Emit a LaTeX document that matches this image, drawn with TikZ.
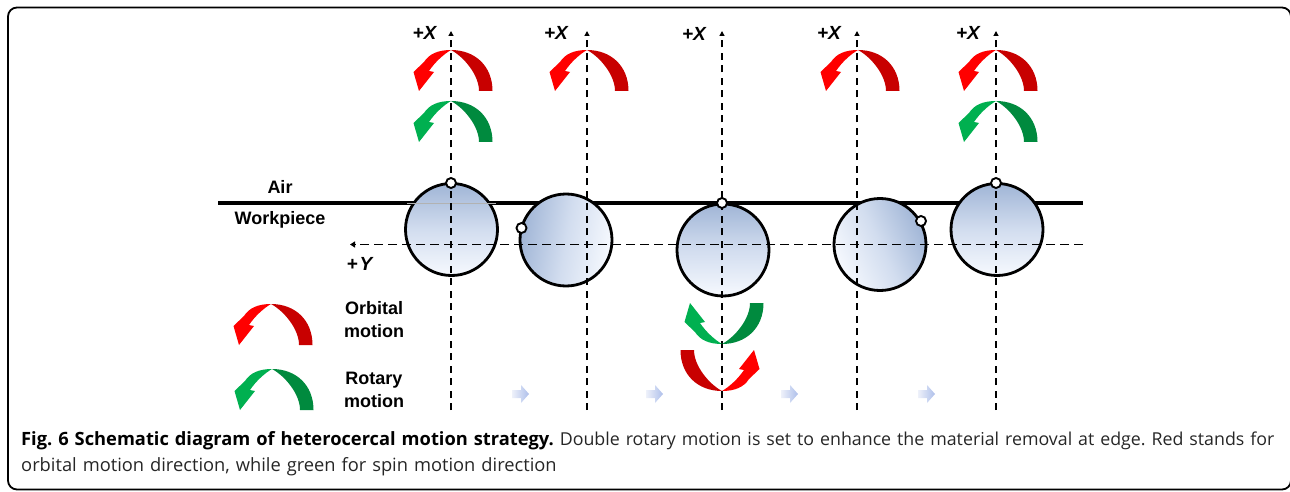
\documentclass[tikz,border=0pt]{standalone}
\usepackage{fontspec}
\setmainfont{Liberation Sans}
\newfontfamily\capfont{Open Sans}
\usetikzlibrary{arrows.meta}
\definecolor{redlt}{HTML}{FF0000}
\definecolor{reddk}{HTML}{C80000}
\definecolor{grnlt}{HTML}{00B050}
\definecolor{grndk}{HTML}{008A3E}
\definecolor{balltop}{HTML}{A0B5D6}
\definecolor{ballmid}{HTML}{D2DDEF}
\definecolor{ballbot}{HTML}{F6F9FE}
\definecolor{steplt}{HTML}{EEF1FA}
\definecolor{stepdk}{HTML}{AEBFEA}
\tikzset{
  curved/.pic={
    \fill[#1dk] (0,0) .. controls (24,0) and (41.5,16) .. (41.5,41) -- (28,41) .. controls (28,25) and (13,7) .. (0,0) -- cycle;
    \fill[#1lt] (0,0) .. controls (-13,0) and (-22,4) .. (-27,12) -- (-37.5,22) -- (-32,41) -- (-17,22) -- (-22,21) .. controls (-16,12) and (-7,4) .. (0,0) -- cycle;
  },
  axisline/.style={dashed,dash pattern=on 7pt off 5.5pt,line width=1.7pt,-{Triangle[length=5pt,width=5pt]}},
  yaxisline/.style={dashed,dash pattern=on 9pt off 5pt,line width=1.5pt,-{Triangle[length=5pt,width=6pt]}},
  axislabel/.style={font=\bfseries\itshape\fontsize{19}{19}\selectfont,inner sep=0pt},
  ball/.style={circle,draw=black,line width=2.8pt,minimum size=92pt,inner sep=0pt},
  vball/.style={ball,top color=balltop,bottom color=ballbot,middle color=ballmid},
  mark dot/.style={circle,draw=black,fill=white,line width=1.9pt,minimum size=10pt,inner sep=0pt},
  lbl/.style={font=\bfseries\fontsize{18}{23}\selectfont,align=center,inner sep=0pt},
  caption/.style={font=\capfont\fontsize{17.8}{26}\selectfont,align=left,anchor=north west,inner sep=0pt,text width=1275pt,color=black!85}
}
\begin{document}
\begin{tikzpicture}[x=1pt,y=-1pt]
\useasboundingbox (0,0) rectangle (1290,492);
\draw[line width=1.8pt,rounded corners=9pt] (8,7.5) -- (1291,7.5) -- (1291,489.5) -- (8,489.5) -- cycle;
\coordinate (sl) at (218,203);\coordinate (sr) at (1083,203);
\draw[line width=3.2pt] (sl) -- (sr);
% balls
\node[vball] (b1) at (451.5,229.5) {};
\node[vball,shading angle=80] (b2) at (566,240) {};
\node[vball] (b3) at (723,250) {};
\node[vball,shading angle=-65] (b4) at (880,244.5) {};
\node[vball] (b5) at (997,229.5) {};
\draw[gray!60,line width=.6pt] (b1.west |- sl) ++(3,0) -- ([xshift=-3pt]b1.east |- sl);
% axes
\foreach \n/\x in {1/451,2/587,3/722,4/857,5/996}{
  \coordinate (xb\n) at (\x,410);\coordinate (xt\n) at (\x,31);
  \draw[axisline] (xb\n) -- (xt\n);
}
\coordinate (yr) at (1083,244.5);\coordinate (yl) at (350,244.5);
\draw[yaxisline] (yr) -- (yl);
\node[axislabel] (lx1) at (424.5,33) {+X};
\node[axislabel] (lx2) at (556,33) {+X};
\node[axislabel] (lx3) at (694,34) {+X};
\node[axislabel] (lx4) at (829,33) {+X};
\node[axislabel] (lx5) at (968,33) {+X};
\node[axislabel] (ly) at (359.5,264) {+\kern2pt Y};
% marks
\node[mark dot] (m1) at (451,183) {};
\node[mark dot] (m2) at (521.5,228) {};
\node[mark dot] (m3) at (722,203) {};
\node[mark dot] (m4) at (921,221) {};
\node[mark dot] (m5) at (996,183) {};
% curved arrows
\pic at (451,50) {curved=red};
\pic at (587,50) {curved=red};
\pic at (858,50) {curved=red};
\pic at (996,50) {curved=red};
\pic at (451,101) {curved=grn};
\pic at (996,101) {curved=grn};
\pic at (271,304) {curved=red};
\pic at (272,369) {curved=grn};
\pic[yscale=-1] at (722,344) {curved=grn};
\pic[xscale=-1,yscale=-1] at (722,391) {curved=red};
% labels
\node[lbl] (air) at (280,187) {Air};
\node[lbl] (wp) at (280,220) {Workpiece};
\node[lbl] (orb) at (374,319.5) {Orbital\\motion};
\node[lbl] (rot) at (374,389.5) {Rotary\\motion};
% small arrows
\foreach \n/\x in {1/521,2/655,3/790,4/927}{
  \shade[left color=steplt,right color=stepdk] (\x-9,390) -- (\x,390) -- (\x,385) -- (\x+8,394) -- (\x,403) -- (\x,398) -- (\x-9,398) -- cycle;
}
\node[caption] (cap) at (21,431) {\frenchspacing\hyphenpenalty=10000{\bfseries\color{black}\fontsize{18.3}{26}\selectfont Fig. 6 Schematic diagram of heterocercal motion strategy.} Double rotary motion is set to enhance the material removal at edge. Red stands for\\{\fontsize{18.3}{26}\selectfont orbital motion direction, while green for spin motion direction}};
\end{tikzpicture}
\end{document}
